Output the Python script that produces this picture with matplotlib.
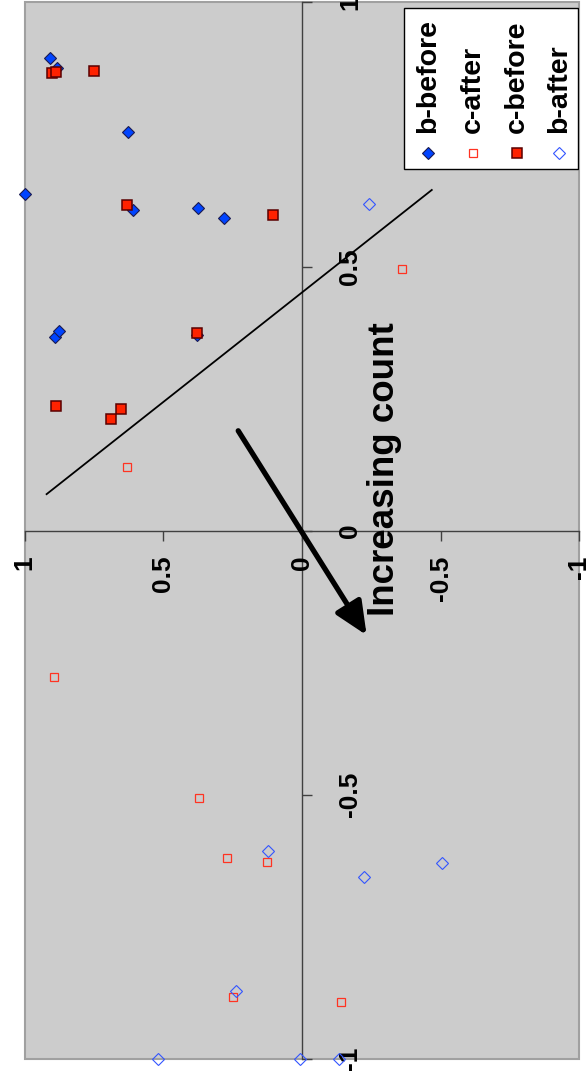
import matplotlib
matplotlib.use('Agg')
import matplotlib.pyplot as plt
from matplotlib.patches import Rectangle

plt.rcParams['font.family'] = ['Liberation Sans', 'DejaVu Sans']
plt.rcParams['font.weight'] = 'bold'
plt.rcParams['axes.unicode_minus'] = False

# ---- data (original chart: x horizontal, y vertical; picture is rotated 90 deg) ----
series_names = ['b-before', 'c-after', 'c-before', 'b-after']

b_before_x = [0.894, 0.876, 0.755, 0.638, 0.607, 0.611, 0.592, 0.366, 0.377, 0.370]
b_before_y = [0.909, 0.885, 0.626, 1.000, 0.611, 0.374, 0.280, 0.891, 0.876, 0.380]

c_after_x = [0.121, 0.496, -0.278, -0.506, -0.620, -0.627, -0.884, -0.892]
c_after_y = [0.630, -0.362, 0.894, 0.371, 0.270, 0.127, 0.249, -0.140]

c_before_x = [0.866, 0.868, 0.870, 0.616, 0.597, 0.374, 0.235, 0.231, 0.212]
c_before_y = [0.903, 0.887, 0.751, 0.631, 0.106, 0.379, 0.888, 0.653, 0.689]

b_after_x = [0.619, -0.607, -0.656, -0.629, -0.871, -1.0, -1.0, -1.0]
b_after_y = [-0.243, 0.122, -0.222, -0.504, 0.238, 0.518, 0.007, -0.135]

trend_line_x = [0.069, 0.645]
trend_line_y = [0.921, -0.468]

arrow_start = (0.189, 0.230)   # (x, y)
arrow_end = (-0.198, -0.233)
annotation_text = 'Increasing count'
annotation_pos = (0.116, -0.299)

tick_values = [-1, -0.5, 0, 0.5, 1]
tick_labels = ['-1', '-0.5', '0', '0.5', '1']

# ---- styles ----
styles = {
    'b-before': dict(marker='D', ms=6.2, mfc='#0044FF', mec='#1A1A50', mew=0.8, ls='none'),
    'c-after': dict(marker='s', ms=5.8, mfc='none', mec='#FF3322', mew=0.9, ls='none'),
    'c-before': dict(marker='s', ms=6.5, mfc='#FF2200', mec='#5A0000', mew=1.1, ls='none'),
    'b-after': dict(marker='D', ms=6.2, mfc='none', mec='#3355FF', mew=0.8, ls='none'),
}
series_data = {
    'b-before': (b_before_x, b_before_y),
    'c-after': (c_after_x, c_after_y),
    'c-before': (c_before_x, c_before_y),
    'b-after': (b_after_x, b_after_y),
}

fig = plt.figure(figsize=(5.88, 10.78), dpi=100)
ax = fig.add_axes([0.0420, 0.0179, 0.9432, 0.9798])
ax.set_facecolor('#CCCCCC')

# rotated view: horizontal = original y (1 at left), vertical = original x
ax.set_xlim(1, -1)
ax.set_ylim(-1, 1)

for sp in ['top', 'left']:
    ax.spines[sp].set_visible(False)
ax.spines['bottom'].set_position(('data', 0))
ax.spines['right'].set_position(('data', 0))
for sp in ['bottom', 'right']:
    ax.spines[sp].set_color('#404040')
    ax.spines[sp].set_linewidth(1.0)
    ax.spines[sp].set_zorder(1.5)

ax.add_patch(Rectangle((0, 0), 1, 1, transform=ax.transAxes, fill=False,
                       edgecolor='#A0A0A0', lw=1.5, clip_on=False, zorder=1))

ax.xaxis.set_ticks_position('bottom')
ax.yaxis.set_ticks_position('right')
ax.set_xticks(tick_values, labels=tick_labels)
ax.set_yticks(tick_values, labels=tick_labels)
ax.tick_params(axis='both', direction='out', length=7, width=1, color='#404040',
               labelsize=19)
ax.tick_params(axis='x', pad=11)
ax.tick_params(axis='y', pad=19)
for lbl in ax.get_xticklabels():
    lbl.set_rotation(90)
    lbl.set_fontweight('bold')
    lbl.set_ha('center')
    lbl.set_va('top')
for lbl in ax.get_yticklabels():
    lbl.set_rotation(90)
    lbl.set_fontweight('bold')
    lbl.set_ha('left')
    lbl.set_va('center')

# trend line
ax.plot(trend_line_y, trend_line_x, color='black', lw=1.3, zorder=2)

# series
for name in series_names:
    xs, ys = series_data[name]
    ax.plot(ys, xs, clip_on=False, zorder=3, **styles[name])

# arrow + text
ax.annotate('', xy=(arrow_end[1], arrow_end[0]), xytext=(arrow_start[1], arrow_start[0]),
            arrowprops=dict(arrowstyle='-|>,head_length=1.0,head_width=0.45', lw=3.8,
                            color='black', mutation_scale=20, shrinkA=0, shrinkB=0),
            zorder=4)
ax.text(annotation_pos[1], annotation_pos[0], annotation_text, rotation=90,
        fontsize=26.5, fontweight='bold', ha='center', va='center', zorder=4)

# manual rotated legend (axes coordinates)
leg_left, leg_right, leg_bottom, leg_top = 0.6845, 0.9982, 0.8421, 0.9945
ax.add_patch(Rectangle((leg_left, leg_bottom), leg_right - leg_left, leg_top - leg_bottom,
                       transform=ax.transAxes, facecolor='white', edgecolor='black',
                       lw=1.0, zorder=5))
entry_x = [0.7267, 0.8089, 0.8883, 0.9640]
for name, ex in zip(series_names, entry_x):
    ax.plot([ex], [0.8572], transform=ax.transAxes, clip_on=False, zorder=6, **styles[name])
    ax.text(ex, 0.8762, name, transform=ax.transAxes, rotation=90, fontsize=20.5,
            fontweight='bold', ha='center', va='bottom', zorder=6)

fig.savefig('out.png', dpi=100)
